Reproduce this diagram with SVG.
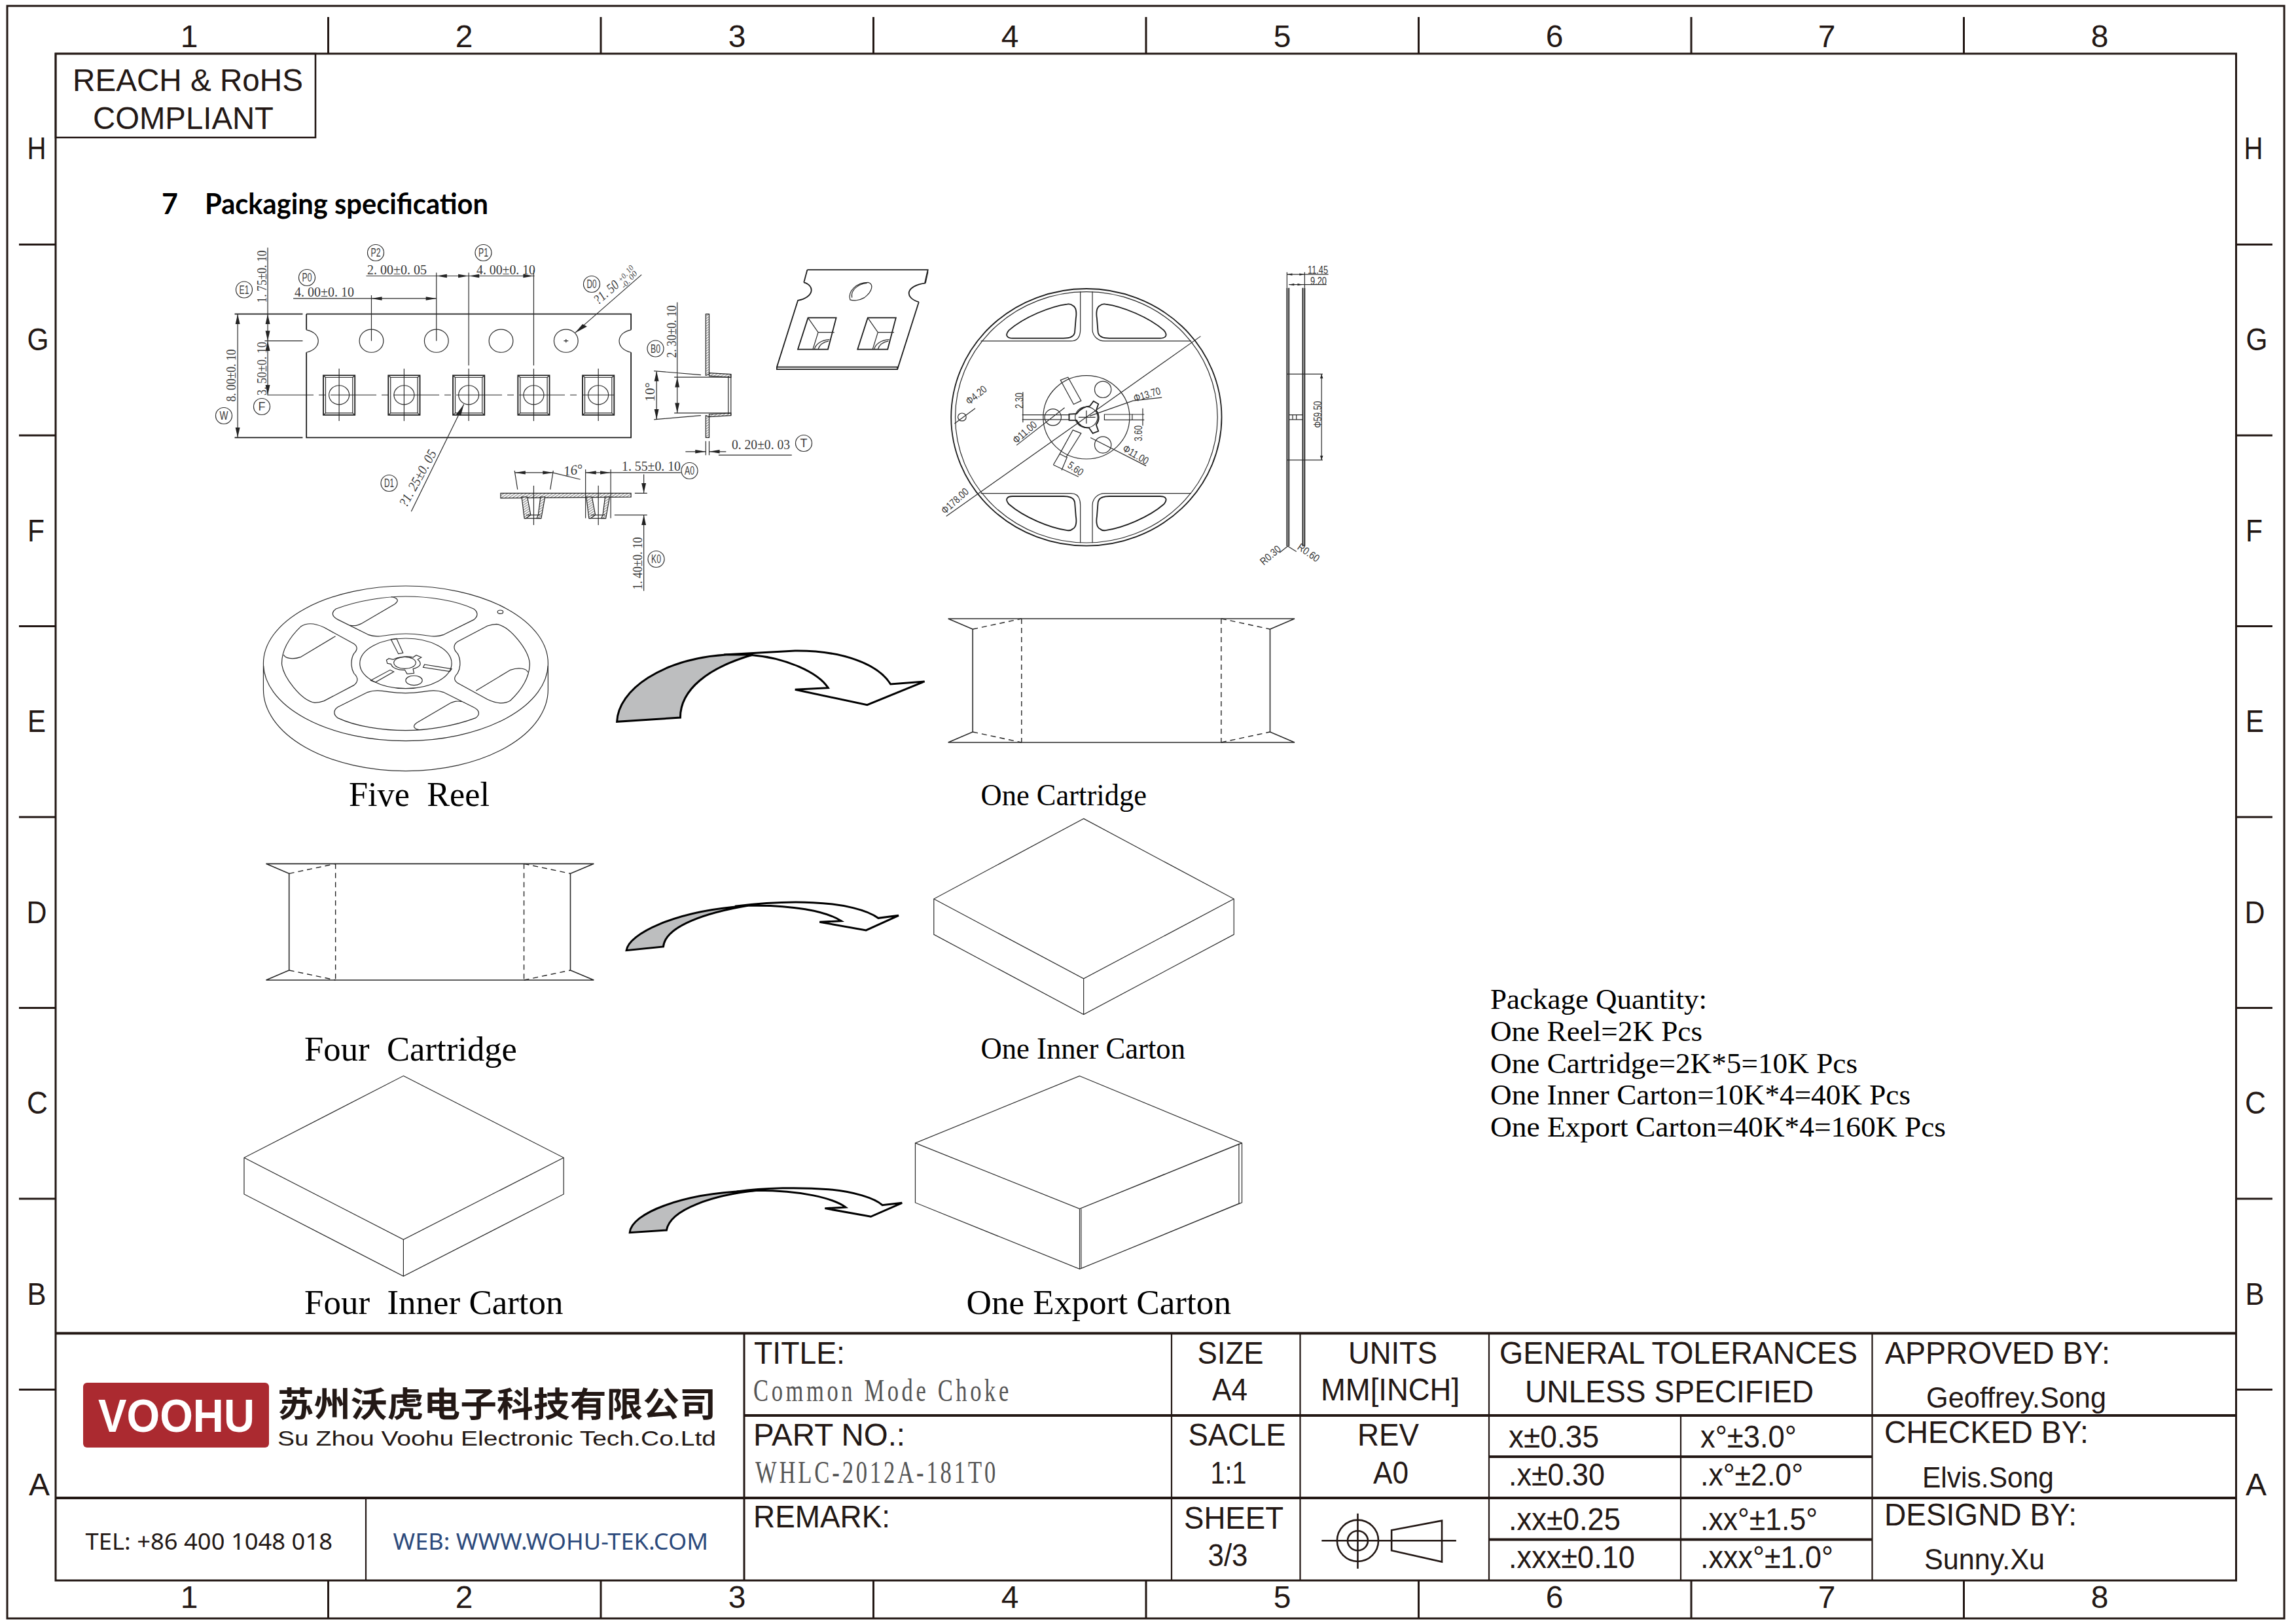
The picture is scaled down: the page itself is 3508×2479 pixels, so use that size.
<svg xmlns="http://www.w3.org/2000/svg" width="3508" height="2479" viewBox="0 0 3508 2479">
<style>
path,line,ellipse,polygon,polyline,rect,circle{vector-effect:non-scaling-stroke}
pattern path{vector-effect:none}
text{font-family:"Liberation Sans",Arial,sans-serif;fill:#231815}
.f{fill:none;stroke:#231815;stroke-width:3}
.tk{fill:none;stroke:#231815;stroke-width:2.6}
.hv{fill:none;stroke:#231815;stroke-width:3.8}
.tn{fill:none;stroke:#231815;stroke-width:2.2}
.d{fill:none;stroke:#2a2a2a;stroke-width:1.2}
.b{fill:none;stroke:#1c1c1c;stroke-width:1.8}
.dash{fill:none;stroke:#222;stroke-width:1.4;stroke-dasharray:8 6}
.dd{fill:none;stroke:#222;stroke-width:1.1;stroke-dasharray:70 8 10 8}
.ah{fill:#222;stroke:none}
.hat{fill:url(#hatch);stroke:#222;stroke-width:1.2}
.arr{fill:#fff;stroke:#000;stroke-width:3;stroke-linejoin:miter}
.gy{fill:#bdbebf;stroke:#000;stroke-width:3}
.big{font-size:48px}
.tb{font-size:48px}
.tb2{font-size:44px}
.sf{font-family:"Liberation Serif","Times New Roman",serif;fill:#000}
.cap{font-size:52px}
.cap2{font-size:47px}
.pq{font-size:45px}
.dm{font-family:"Liberation Serif","Times New Roman",serif;font-size:21px;fill:#3a3a3a}
.ds{font-size:16px;fill:#333}
.cl{font-size:18px;fill:#3a3a3a;text-anchor:middle}
.m{text-anchor:middle}
.cd{font-family:"Liberation Serif","Times New Roman",serif;fill:#555;font-size:48px}
</style>
<defs>
<pattern id="hatch" patternUnits="userSpaceOnUse" width="10" height="10"><rect width="10" height="10" fill="#fff"/><path d="M-2,12L12,-2M-2,2L2,-2M8,12L12,8" stroke="#222" stroke-width="1.6" fill="none"/></pattern>
<g id="pocket">
<rect class="b" x="-42" y="610" width="84" height="158"/>
<rect class="d" x="-36" y="618" width="72" height="142"/>
<path class="d" d="M-42,610L-36,618M42,610L36,618M-42,768L-36,760M42,768L36,760"/>
<ellipse class="d" cx="0" cy="688" rx="27" ry="38"/>
<path class="d" d="M0,583V792"/>
</g>
<g id="sec">
<polygon class="hat" points="-12,1095 3,1095 12,1167 0,1180 -5,1180"/>
<polygon class="hat" points="38,1095 50,1095 40,1180 28,1180 32,1167"/>
<path class="d" d="M0,1167H38M-5,1180H40"/>
<path class="d" d="M20,1050V1207"/>
</g>
<g id="win">
<path class="b" d="M800,262C810,270 810,300 808,320L805,385C803,405 790,412 775,412L640,412C622,412 620,395 630,375C670,315 740,265 785,255C792,253 797,257 800,262Z"/>
</g>
<path id="tophalf" class="d" d="M190,150C240,110 300,93 342,93C390,93 450,110 490,150C500,165 500,185 490,200L425,268C410,280 395,275 380,270C355,262 330,262 305,270C290,275 275,280 260,268L195,200C180,185 180,165 190,150ZM220,225C232,230 238,225 245,218L318,128C330,110 322,98 310,95"/>
<path id="righthalf" class="d" d="M540,220C570,230 610,340 612,400C612,470 590,530 570,570C555,590 535,580 520,565L455,490C445,475 448,460 455,445C462,420 462,380 455,355C445,335 445,315 455,300L520,228C528,222 535,220 540,220ZM495,525L570,430C590,415 605,425 608,440"/>
</defs>

<g id="sheet-frame">
<rect class="f" x="11" y="9" width="3479" height="2463"/>
<rect class="f" x="85" y="82" width="3331.5" height="2332"/>
<path class="f" d="M501.5,26V82M918,26V82M1334.5,26V82M1751,26V82M2167.5,26V82M2584,26V82M3000.5,26V82"/>
<path class="f" d="M501.5,2414V2472M918,2414V2472M1334.5,2414V2472M1751,2414V2472M2167.5,2414V2472M2584,2414V2472M3000.5,2414V2472"/>
<path class="f" d="M29,373.5H85M29,665H85M29,956.5H85M29,1248H85M29,1539.5H85M29,1831H85M29,2122.5H85"/>
<path class="f" d="M3416.5,373.5H3472M3416.5,665H3472M3416.5,956.5H3472M3416.5,1248H3472M3416.5,1539.5H3472M3416.5,1831H3472M3416.5,2122.5H3472"/>
<text class="big m" x="289" y="72">1</text><text class="big m" x="709" y="72">2</text><text class="big m" x="1126" y="72">3</text><text class="big m" x="1543" y="72">4</text><text class="big m" x="1959" y="72">5</text><text class="big m" x="2375" y="72">6</text><text class="big m" x="2791" y="72">7</text><text class="big m" x="3208" y="72">8</text>
<text class="big m" x="289" y="2456">1</text><text class="big m" x="709" y="2456">2</text><text class="big m" x="1126" y="2456">3</text><text class="big m" x="1543" y="2456">4</text><text class="big m" x="1959" y="2456">5</text><text class="big m" x="2375" y="2456">6</text><text class="big m" x="2791" y="2456">7</text><text class="big m" x="3208" y="2456">8</text>
<text class="big m" x="56" y="243" textLength="29" lengthAdjust="spacingAndGlyphs">H</text><text class="big m" x="58" y="535" textLength="33" lengthAdjust="spacingAndGlyphs">G</text><text class="big m" x="55" y="827" textLength="26" lengthAdjust="spacingAndGlyphs">F</text><text class="big m" x="56" y="1118" textLength="28" lengthAdjust="spacingAndGlyphs">E</text><text class="big m" x="56" y="1410" textLength="31" lengthAdjust="spacingAndGlyphs">D</text><text class="big m" x="57" y="1701" textLength="32" lengthAdjust="spacingAndGlyphs">C</text><text class="big m" x="56" y="1993" textLength="29" lengthAdjust="spacingAndGlyphs">B</text><text class="big m" x="60" y="2284" textLength="32" lengthAdjust="spacingAndGlyphs">A</text>
<text class="big m" x="3443" y="243" textLength="29" lengthAdjust="spacingAndGlyphs">H</text><text class="big m" x="3448" y="535" textLength="33" lengthAdjust="spacingAndGlyphs">G</text><text class="big m" x="3444" y="827" textLength="26" lengthAdjust="spacingAndGlyphs">F</text><text class="big m" x="3445" y="1118" textLength="28" lengthAdjust="spacingAndGlyphs">E</text><text class="big m" x="3445" y="1410" textLength="31" lengthAdjust="spacingAndGlyphs">D</text><text class="big m" x="3446" y="1701" textLength="32" lengthAdjust="spacingAndGlyphs">C</text><text class="big m" x="3445" y="1993" textLength="29" lengthAdjust="spacingAndGlyphs">B</text><text class="big m" x="3447" y="2284" textLength="32" lengthAdjust="spacingAndGlyphs">A</text>
</g>

<g id="compliance-box">
<rect class="tk" x="85" y="82" width="397" height="128"/>
<text class="tb" x="111" y="139" textLength="352" lengthAdjust="spacingAndGlyphs">REACH &amp; RoHS</text>
<text class="tb" x="142" y="197" textLength="276" lengthAdjust="spacingAndGlyphs">COMPLIANT</text>
</g>

<g id="section-heading">
<text x="247" y="327" style="font-family:Lato,'Liberation Sans',sans-serif;font-weight:700;font-size:43px;fill:#000">7</text>
<text x="313" y="327" textLength="433" lengthAdjust="spacingAndGlyphs" style="font-family:Lato,'Liberation Sans',sans-serif;font-weight:700;font-size:43px;fill:#000">Packaging specification</text>
</g>

<g id="tape-drawing">
<g transform="translate(300,340) scale(.574,.3827)">
<path class="b" d="M293,365H1157V428M1157,518V858H293V518M293,428V365"/>
<path class="d" d="M293,428C335,440 335,505 293,518M1157,428C1115,440 1115,505 1157,518"/>
<path class="b" d="M102,365H283M102,858H283"/>
<ellipse class="d" cx="466" cy="472" rx="32" ry="46"/><ellipse class="d" cx="639" cy="472" rx="32" ry="46"/><ellipse class="d" cx="811" cy="472" rx="32" ry="46"/><ellipse class="d" cx="984" cy="472" rx="32" ry="46"/>
<path class="d" d="M978,472H990M984,465V479"/>
<use href="#pocket" x="380"/><use href="#pocket" x="553"/><use href="#pocket" x="725"/><use href="#pocket" x="898"/><use href="#pocket" x="1070"/>
<path class="dd" d="M190,688H1112"/>
<path class="d" d="M110,365V858M190,100V690M182,472H283"/>
<path class="d" d="M258,303H639M466,290V472M639,200V472"/>
<path class="d" d="M452,213H900M725,200V570M898,190V570"/>
<path class="d" d="M1185,208L1008,440M572,1153L712,725"/>
<polygon class="ah" points="110,365 104,405 116,405"/><polygon class="ah" points="110,858 104,818 116,818"/>
<polygon class="ah" points="190,365 184,405 196,405"/><polygon class="ah" points="190,472 184,432 196,432"/><polygon class="ah" points="190,472 184,512 196,512"/><polygon class="ah" points="190,688 184,648 196,648"/>
<polygon class="ah" points="466,303 494,296 494,310"/><polygon class="ah" points="639,303 611,296 611,310"/>
<polygon class="ah" points="639,213 667,206 667,220"/><polygon class="ah" points="725,213 697,206 697,220"/><polygon class="ah" points="725,213 753,206 753,220"/><polygon class="ah" points="898,213 870,206 870,220"/>
<polygon class="ah" points="1008,440 1028,405 1040,415"/><polygon class="ah" points="712,725 692,765 704,770"/>
<polygon class="hat" points="1356,365 1365,365 1365,605 1356,610"/>
<polygon class="hat" points="1356,770 1365,775 1365,858 1356,858"/>
<polygon class="hat" points="1365,600 1423,605 1423,618 1365,612"/>
<polygon class="hat" points="1365,775 1423,770 1423,760 1365,765"/>
<path class="d" d="M1416,612V765M1423,605V770"/>
<path class="d" d="M1280,318V760M1272,617H1423M1272,760H1423M1225,593V785M1218,592L1343,608M1218,786L1343,770"/>
<polygon class="ah" points="1280,617 1274,657 1286,657"/><polygon class="ah" points="1280,760 1274,720 1286,720"/>
<polygon class="ah" points="1225,593 1219,633 1231,633"/><polygon class="ah" points="1225,785 1219,745 1231,745"/>
<path class="d" d="M1356,872V928M1365,872V928M1302,914H1356M1365,914H1410M1390,928H1585"/>
<polygon class="ah" points="1356,914 1328,907 1328,921"/><polygon class="ah" points="1365,914 1393,907 1393,921"/>
<polygon class="hat" points="810,1080 1157,1080 1157,1095 810,1100"/>
<use href="#sec" x="878"/><use href="#sec" x="1050"/>
<path class="d" d="M847,990L855,1065M950,990L942,1065M848,998H950M948,998L1022,1025M1036,985V1180M1103,985V1180M1036,998H1290M1167,1080H1200M1113,1167H1200M1191,1005V1080M1191,1167V1470"/>
<polygon class="ah" points="848,998 876,991 876,1005"/><polygon class="ah" points="950,998 922,991 922,1005"/>
<polygon class="ah" points="1036,998 1064,991 1064,1005"/><polygon class="ah" points="1103,998 1075,991 1075,1005"/>
<polygon class="ah" points="1191,1080 1185,1040 1197,1040"/><polygon class="ah" points="1191,1167 1185,1207 1197,1207"/>
</g>
<circle class="d" cx="574" cy="386" r="12.5"/><circle class="d" cx="738.5" cy="386" r="12.5"/><circle class="d" cx="469" cy="424" r="12.5"/><circle class="d" cx="373" cy="442.5" r="12.5"/><circle class="d" cx="904" cy="434" r="12.5"/><circle class="d" cx="342" cy="635" r="12.5"/><circle class="d" cx="400" cy="621" r="12.5"/><circle class="d" cx="594.5" cy="738" r="12.5"/><circle class="d" cx="1001.5" cy="532.5" r="12.5"/><circle class="d" cx="1053.5" cy="719" r="12.5"/><circle class="d" cx="1002.5" cy="854" r="12.5"/><circle class="d" cx="1228" cy="677" r="12.5"/>
<text class="cl" x="574" y="392" textLength="15" lengthAdjust="spacingAndGlyphs">P2</text><text class="cl" x="738.5" y="392" textLength="15" lengthAdjust="spacingAndGlyphs">P1</text><text class="cl" x="469" y="430" textLength="15" lengthAdjust="spacingAndGlyphs">P0</text><text class="cl" x="373" y="448.5" textLength="15" lengthAdjust="spacingAndGlyphs">E1</text><text class="cl" x="904" y="440" textLength="15" lengthAdjust="spacingAndGlyphs">D0</text><text class="cl" x="342" y="641" textLength="13" lengthAdjust="spacingAndGlyphs">W</text><text class="cl" x="400" y="627">F</text><text class="cl" x="594.5" y="744" textLength="15" lengthAdjust="spacingAndGlyphs">D1</text><text class="cl" x="1001.5" y="538.5" textLength="15" lengthAdjust="spacingAndGlyphs">B0</text><text class="cl" x="1053.5" y="725" textLength="15" lengthAdjust="spacingAndGlyphs">A0</text><text class="cl" x="1002.5" y="860" textLength="15" lengthAdjust="spacingAndGlyphs">K0</text><text class="cl" x="1228" y="683">T</text>
<text class="dm" transform="translate(407,462.5) rotate(-90)" textLength="80" lengthAdjust="spacingAndGlyphs">1. 75±0. 10</text>
<text class="dm" transform="translate(407,604) rotate(-90)" textLength="82" lengthAdjust="spacingAndGlyphs">3. 50±0. 10</text>
<text class="dm" transform="translate(360,613.5) rotate(-90)" textLength="80" lengthAdjust="spacingAndGlyphs">8. 00±0. 10</text>
<text class="dm" x="450" y="453" textLength="91" lengthAdjust="spacingAndGlyphs">4. 00±0. 10</text>
<text class="dm" x="561" y="418.5" textLength="91" lengthAdjust="spacingAndGlyphs">2. 00±0. 05</text>
<text class="dm" x="728" y="418.5" textLength="90" lengthAdjust="spacingAndGlyphs">4. 00±0. 10</text>
<text class="dm" transform="translate(1033,546.5) rotate(-90)" textLength="80" lengthAdjust="spacingAndGlyphs">2. 30±0. 10</text>
<text class="dm" x="950" y="719" textLength="90" lengthAdjust="spacingAndGlyphs">1. 55±0. 10</text>
<text class="dm" transform="translate(981,900.5) rotate(-90)" textLength="80" lengthAdjust="spacingAndGlyphs">1. 40±0. 10</text>
<text class="dm" x="1118" y="686" textLength="89" lengthAdjust="spacingAndGlyphs">0. 20±0. 03</text>
<text class="dm" transform="translate(1000,613.5) rotate(-90)">10°</text>
<text class="dm" transform="translate(862,727) rotate(-8)" style="font-style:italic">16°</text>
<text class="dm" transform="translate(621,776) rotate(-61)" textLength="96" lengthAdjust="spacingAndGlyphs" style="font-style:italic">?1. 25±0. 05</text>
<text class="dm" transform="translate(914,466) rotate(-41)" textLength="44" lengthAdjust="spacingAndGlyphs" style="font-style:italic">?1. 50</text>
<text class="dm" transform="translate(949,432) rotate(-49)" textLength="30" lengthAdjust="spacingAndGlyphs" style="font-style:italic;font-size:12px">+0. 10</text>
<text class="dm" transform="translate(954,441.5) rotate(-49)" textLength="31" lengthAdjust="spacingAndGlyphs" style="font-style:italic;font-size:12px">-0. 00</text>
</g>

<g id="tape-iso">
<g transform="translate(1180,380) scale(.574,.3316)">
<path class="b" d="M93,97H414L406,158M84,155L93,97M84,155C115,170 110,225 68,238L12,545V555H333L390,245M408,158C355,170 350,225 390,245M12,545H333V555"/>
<path class="d" d="M414,97V110L408,158"/>
<path class="d" d="M207,235C200,195 225,155 255,155C270,160 268,195 245,225C230,240 215,240 207,235ZM212,225C208,190 228,162 252,158"/>
<path class="b" d="M95,318H170L148,463H68Z"/><path class="d" d="M95,318L122,385H165M122,385L108,463M112,463C115,440 130,420 152,418M122,463C125,445 135,430 150,425"/>
<path class="b" d="M254,318H329L307,463H227Z"/><path class="d" d="M254,318L281,385H324M281,385L267,463M271,463C274,440 289,420 311,418M281,463C284,445 294,430 309,425"/>
</g>
</g>

<g id="reel-front">
<g transform="translate(1180,380) scale(.574,.3316)">
<ellipse class="b" cx="836" cy="776" rx="360" ry="592"/><ellipse class="d" cx="836" cy="776" rx="349" ry="578"/>
<path class="d" d="M555,425H795C815,425 820,400 820,370V197M852,197V370C852,400 865,425 885,425H1115"/>
<path class="d" d="M555,1127H795C815,1127 820,1152 820,1182V1355M852,1355V1182C852,1152 865,1127 885,1127H1115"/>
<use href="#win"/>
<g transform="translate(1672,0) scale(-1,1)"><use href="#win"/></g>
<g transform="translate(0,1552) scale(1,-1)"><use href="#win"/></g>
<g transform="translate(1672,1552) scale(-1,-1)"><use href="#win"/></g>
<ellipse class="d" cx="836" cy="776" rx="115" ry="192"/>
<ellipse class="d" cx="880" cy="648" rx="22" ry="38"/><ellipse class="d" cx="747" cy="776" rx="22" ry="38"/><ellipse class="d" cx="880" cy="903" rx="22" ry="38"/>
<ellipse class="d" cx="505" cy="775" rx="11" ry="18"/>
<polygon class="d" points="767,605 787,592 822,700 802,716"/><polygon class="d" points="884,763 958,763 958,788 884,788"/><polygon class="d" points="800,835 822,850 782,960 765,945"/>
<path class="b" d="M790,762L810,760C820,735 835,725 845,725L855,702L868,715L862,745C870,760 872,790 862,810L868,840L853,850L843,825C825,825 815,810 810,790L790,790Z"/>
<ellipse class="d" cx="836" cy="776" rx="30" ry="48"/>
<path class="d" d="M815,776H860M836,745V805"/>
<path class="d" d="M463,1232L1140,403M485,805L540,735M845,770L960,700L1037,685M650,905L778,732M847,870L995,1000M665,765H790M665,787H790M667,660V800M958,763H990M958,788H990M986,735V815M765,945L748,995M785,958L770,1020M748,995L815,1050"/>
</g>
<text class="ds" transform="translate(1444,786) rotate(-42)" textLength="50" lengthAdjust="spacingAndGlyphs">Φ178.00</text>
<text class="ds" transform="translate(1481,619) rotate(-39)" textLength="36" lengthAdjust="spacingAndGlyphs">Φ4.20</text>
<text class="ds" transform="translate(1553,678.5) rotate(-41)" textLength="43" lengthAdjust="spacingAndGlyphs">Φ11.00</text>
<text class="ds" transform="translate(1734,614) rotate(-17)" textLength="42" lengthAdjust="spacingAndGlyphs">Φ13.70</text>
<text class="ds" transform="translate(1714,688) rotate(31)" textLength="43" lengthAdjust="spacingAndGlyphs">Φ11.00</text>
<text class="ds" transform="translate(1630,713) rotate(35)" textLength="25" lengthAdjust="spacingAndGlyphs">5.60</text>
<text class="ds" transform="translate(1563,624) rotate(-90)" textLength="24" lengthAdjust="spacingAndGlyphs">2.30</text>
<text class="ds" transform="translate(1745,674) rotate(-90)" textLength="24" lengthAdjust="spacingAndGlyphs">3.60</text>
</g>

<g id="reel-side">
<g transform="translate(1180,380) scale(.574,.3316)">
<path class="b" d="M1370,180V1370M1375,180V1370M1412,180V1370M1417,180V1370"/>
<path class="d" d="M1370,108V180M1417,108V180M1370,118H1480M1375,165H1475M1370,577H1465M1370,973H1465M1462,577V973M1375,765H1412M1375,787H1412M1385,765V787M1395,765V787"/>
<path class="d" d="M1372,1370L1350,1400M1372,1370L1395,1395"/>
<polygon class="ah" points="1370,118 1384,113 1384,123"/><polygon class="ah" points="1417,118 1403,113 1403,123"/><polygon class="ah" points="1375,165 1389,160 1389,170"/><polygon class="ah" points="1412,165 1398,160 1398,170"/>
<polygon class="ah" points="1462,577 1458,597 1466,597"/><polygon class="ah" points="1462,973 1458,953 1466,953"/>
</g>
<text class="ds" x="1998" y="418" textLength="31" lengthAdjust="spacingAndGlyphs">11.45</text>
<text class="ds" x="2002" y="434.5" textLength="25" lengthAdjust="spacingAndGlyphs">9.20</text>
<text class="ds" transform="translate(2019,653.5) rotate(-90)" textLength="41" lengthAdjust="spacingAndGlyphs">Φ59.50</text>
<text class="ds" transform="translate(1931,864) rotate(-41)" textLength="36" lengthAdjust="spacingAndGlyphs">R0.30</text>
<text class="ds" transform="translate(1981,838) rotate(35)" textLength="37" lengthAdjust="spacingAndGlyphs">R0.60</text>
</g>

<g id="five-reel">
<g transform="translate(380,880) scale(.7015,.3333)">
<ellipse class="d" cx="342" cy="400" rx="310" ry="355"/>
<path class="d" d="M32,410V520A310,373 0 0 0 652,520V410"/>
<use href="#tophalf"/><g transform="translate(684,800) scale(-1,-1)"><use href="#tophalf"/></g>
<use href="#righthalf"/><g transform="translate(684,800) scale(-1,-1)"><use href="#righthalf"/></g>
<ellipse class="d" cx="342" cy="400" rx="100" ry="115"/>
<polygon class="d" points="310,290 322,286 336,352 326,356"/><polygon class="d" points="383,405 442,425 438,437 380,418"/><polygon class="d" points="266,478 308,430 316,438 276,486"/>
<ellipse class="d" cx="360" cy="478" rx="18" ry="22"/><ellipse class="d" cx="548" cy="164" rx="6" ry="8"/>
<path class="d" d="M300,385L305,378L315,382C325,370 345,365 358,372L365,362L376,372L368,382C378,400 375,415 358,425L360,445L345,448L340,430C325,432 312,420 310,403L302,400Z"/>
<ellipse class="d" cx="340" cy="397" rx="24" ry="27"/>
</g>
<text class="sf cap" x="533" y="1231" textLength="215" lengthAdjust="spacingAndGlyphs">Five&#160; Reel</text>
</g>

<g id="connectors">
<g transform="translate(380,880) scale(.7015,.3333)">
<path class="arr" d="M1035,360L1190,342C1290,340 1370,400 1398,495L1472,483L1347,590L1190,520L1262,512C1240,440 1170,375 1098,362Z"/>
<path class="gy" d="M802,667C805,520 900,380 1040,360L1098,360C1000,420 940,520 940,648Z"/>
</g>
<g transform="translate(380,1280) scale(.6633,.3333)">
<path class="arr" d="M1120,313C1180,298 1240,290 1300,296C1370,302 1425,330 1450,367L1497,355L1422,423L1315,385L1365,380C1330,335 1250,305 1150,310Z"/>
<path class="gy" d="M870,515C875,440 980,335 1140,312L1150,310C1060,340 960,400 955,498Z"/>
</g>
<g transform="translate(340,1640) scale(.7015,.3333)">
<path class="arr" d="M1120,540C1180,522 1260,520 1320,530C1375,540 1420,570 1437,602L1480,592L1412,655L1312,617L1357,612C1330,570 1260,535 1165,535Z"/>
<path class="gy" d="M887,728C890,640 1000,550 1140,538L1165,535C1070,555 975,620 967,717Z"/>
</g>
</g>

<g id="one-cartridge">
<g transform="translate(1420,920) scale(.3827,.3333)">
<path class="d" style="stroke-width:1.6" d="M75,75H1458L1360,123V594L1458,642H75L173,594V123Z"/>
<path class="dash" d="M173,123L368,75M173,594L368,642M368,75V642M1165,75V642M1165,75L1360,123M1165,642L1360,594"/>
</g>
<text class="sf cap2" x="1498.5" y="1230" textLength="253.5" lengthAdjust="spacingAndGlyphs">One Cartridge</text>
</g>

<g id="four-cartridge">
<g transform="translate(380,1280) scale(.6633,.3333)">
<path class="d" style="stroke-width:1.6" d="M40,118H795L741,163V606L795,651H40L93,606V163Z"/>
<path class="dash" d="M93,163L200,118M93,606L200,651M200,118V651M634,118V651M634,118L741,163M634,651L741,606"/>
</g>
<text class="sf cap" x="465" y="1620" textLength="325" lengthAdjust="spacingAndGlyphs">Four&#160; Cartridge</text>
</g>

<g id="one-inner-carton">
<g transform="translate(1400,1240) scale(.3827,.4719)">
<path class="d" d="M668,22L1268,282V397L668,656L70,397V282ZM70,282L668,540L1268,282M668,540V656"/>
</g>
<text class="sf cap2" x="1498.5" y="1617" textLength="312.5" lengthAdjust="spacingAndGlyphs">One Inner Carton</text>
</g>

<g id="four-inner-carton">
<g transform="translate(340,1640) scale(.7015,.3333)">
<path class="d" d="M394,10L743,385V552L394,928L47,552V385ZM47,385L394,760L743,385M394,760V928"/>
</g>
<text class="sf cap" x="465" y="2007" textLength="395.5" lengthAdjust="spacingAndGlyphs">Four&#160; Inner Carton</text>
</g>

<g id="one-export-carton">
<g transform="translate(1400,1240) scale(.3827,.4719)">
<path class="d" d="M652,855L1300,1072V1265L652,1480L-4,1265V1072ZM-4,1072L652,1285L1300,1072M652,1285V1480M658,1285V1478M658,1283L1288,1075V1268L658,1478M1300,1265L1288,1268"/>
</g>
<text class="sf cap" x="1476.5" y="2007" textLength="404.5" lengthAdjust="spacingAndGlyphs">One Export Carton</text>
</g>

<g id="package-quantity">
<text class="sf pq" x="2277" y="1541" textLength="331" lengthAdjust="spacingAndGlyphs">Package Quantity:</text>
<text class="sf pq" x="2277" y="1590" textLength="324" lengthAdjust="spacingAndGlyphs">One Reel=2K Pcs</text>
<text class="sf pq" x="2277" y="1639" textLength="561" lengthAdjust="spacingAndGlyphs">One Cartridge=2K*5=10K Pcs</text>
<text class="sf pq" x="2277" y="1687" textLength="642" lengthAdjust="spacingAndGlyphs">One Inner Carton=10K*4=40K Pcs</text>
<text class="sf pq" x="2277" y="1736" textLength="696" lengthAdjust="spacingAndGlyphs">One Export Carton=40K*4=160K Pcs</text>
</g>

<g id="title-block">
<path class="hv" d="M85,2036.5H3416.5M1137,2162H3416.5M85,2288H3416.5M2275,2225H2860.5M2275,2351.5H2860.5"/>
<path class="f" d="M1137,2036.5V2414"/>
<path class="tn" d="M559,2288V2414M1790,2036.5V2414M1986.5,2036.5V2414M2275,2036.5V2414M2568,2162V2414M2860.5,2036.5V2414"/>
<text class="tb" x="1152" y="2083" textLength="139" lengthAdjust="spacingAndGlyphs">TITLE:</text>
<text class="cd" transform="translate(1151,2140) scale(.72,1)" textLength="542" lengthAdjust="spacing">Common Mode Choke</text>
<text class="tb" x="1151" y="2208" textLength="232" lengthAdjust="spacingAndGlyphs">PART NO.:</text>
<text class="cd" transform="translate(1154,2265) scale(.72,1)" textLength="510" lengthAdjust="spacing">WHLC-2012A-181T0</text>
<text class="tb" x="1151" y="2333" textLength="209" lengthAdjust="spacingAndGlyphs">REMARK:</text>
<text class="tb m" x="1880" y="2083" textLength="101" lengthAdjust="spacingAndGlyphs">SIZE</text><text class="tb m" x="1879" y="2139" textLength="54" lengthAdjust="spacingAndGlyphs">A4</text>
<text class="tb m" x="2128" y="2083" textLength="136" lengthAdjust="spacingAndGlyphs">UNITS</text><text class="tb m" x="2124" y="2139" textLength="212" lengthAdjust="spacingAndGlyphs">MM[INCH]</text>
<text class="tb" x="2291" y="2083" textLength="547" lengthAdjust="spacingAndGlyphs">GENERAL TOLERANCES</text>
<text class="tb" x="2330" y="2142" textLength="441" lengthAdjust="spacingAndGlyphs">UNLESS SPECIFIED</text>
<text class="tb m" x="1890" y="2208" textLength="149" lengthAdjust="spacingAndGlyphs">SACLE</text><text class="tb m" x="1877" y="2266" textLength="55" lengthAdjust="spacingAndGlyphs">1:1</text>
<text class="tb m" x="2121" y="2208" textLength="94" lengthAdjust="spacingAndGlyphs">REV</text><text class="tb m" x="2125" y="2266" textLength="54" lengthAdjust="spacingAndGlyphs">A0</text>
<text class="tb m" x="1885" y="2335" textLength="152" lengthAdjust="spacingAndGlyphs">SHEET</text><text class="tb m" x="1876" y="2392" textLength="61" lengthAdjust="spacingAndGlyphs">3/3</text>
<text class="tb" x="2305" y="2210.5" textLength="138" lengthAdjust="spacingAndGlyphs">x±0.35</text>
<text class="tb" x="2305" y="2269" textLength="147" lengthAdjust="spacingAndGlyphs">.x±0.30</text>
<text class="tb" x="2305" y="2336.5" textLength="171" lengthAdjust="spacingAndGlyphs">.xx±0.25</text>
<text class="tb" x="2305" y="2395" textLength="193" lengthAdjust="spacingAndGlyphs">.xxx±0.10</text>
<text class="tb" x="2598" y="2210.5" textLength="147" lengthAdjust="spacingAndGlyphs">x°±3.0°</text>
<text class="tb" x="2598" y="2269" textLength="157" lengthAdjust="spacingAndGlyphs">.x°±2.0°</text>
<text class="tb" x="2598" y="2336.5" textLength="179" lengthAdjust="spacingAndGlyphs">.xx°±1.5°</text>
<text class="tb" x="2598" y="2395" textLength="203" lengthAdjust="spacingAndGlyphs">.xxx°±1.0°</text>
<text class="tb" x="2880" y="2083" textLength="344" lengthAdjust="spacingAndGlyphs">APPROVED BY:</text>
<text class="tb2" x="2943" y="2150" textLength="275" lengthAdjust="spacingAndGlyphs">Geoffrey.Song</text>
<text class="tb" x="2879" y="2204" textLength="312" lengthAdjust="spacingAndGlyphs">CHECKED BY:</text>
<text class="tb2" x="2937" y="2272" textLength="201" lengthAdjust="spacingAndGlyphs">Elvis.Song</text>
<text class="tb" x="2879" y="2330" textLength="294" lengthAdjust="spacingAndGlyphs">DESIGND BY:</text>
<text class="tb2" x="2940" y="2397" textLength="184" lengthAdjust="spacingAndGlyphs">Sunny.Xu</text>
<g transform="translate(1780,2040) scale(.574,.3333)">
<path class="tk" d="M417,940H775M513,815V1068M603,892L737,848V1037L603,985Z"/>
<ellipse class="tk" cx="513" cy="940" rx="55" ry="95"/><ellipse class="tk" cx="513" cy="940" rx="27" ry="45"/>
</g>
</g>

<g id="logo">
<rect x="127" y="2112" width="284" height="99" rx="6" fill="#ab2a30"/>
<text x="150" y="2187" textLength="239" lengthAdjust="spacingAndGlyphs" style="font-weight:700;font-size:70px;fill:#fff">VOOHU</text>
<text x="424" y="2164" textLength="670" lengthAdjust="spacingAndGlyphs" style="font-family:'Noto Sans CJK SC',sans-serif;font-weight:700;font-size:52px">苏州沃虎电子科技有限公司</text>
<text x="424" y="2208" textLength="670" lengthAdjust="spacingAndGlyphs" style="font-size:31px">Su Zhou Voohu Electronic Tech.Co.Ltd</text>
</g>

<g id="contacts">
<text x="130.5" y="2366.5" textLength="377.5" lengthAdjust="spacingAndGlyphs" style="font-family:'Noto Sans',sans-serif;font-size:34px">TEL: +86 400 1048 018</text>
<text x="600.5" y="2366.5" textLength="481.5" lengthAdjust="spacingAndGlyphs" style="font-family:'Noto Sans',sans-serif;font-size:34px;fill:#2c4a7c">WEB: WWW.WOHU-TEK.COM</text>
</g>
</svg>
